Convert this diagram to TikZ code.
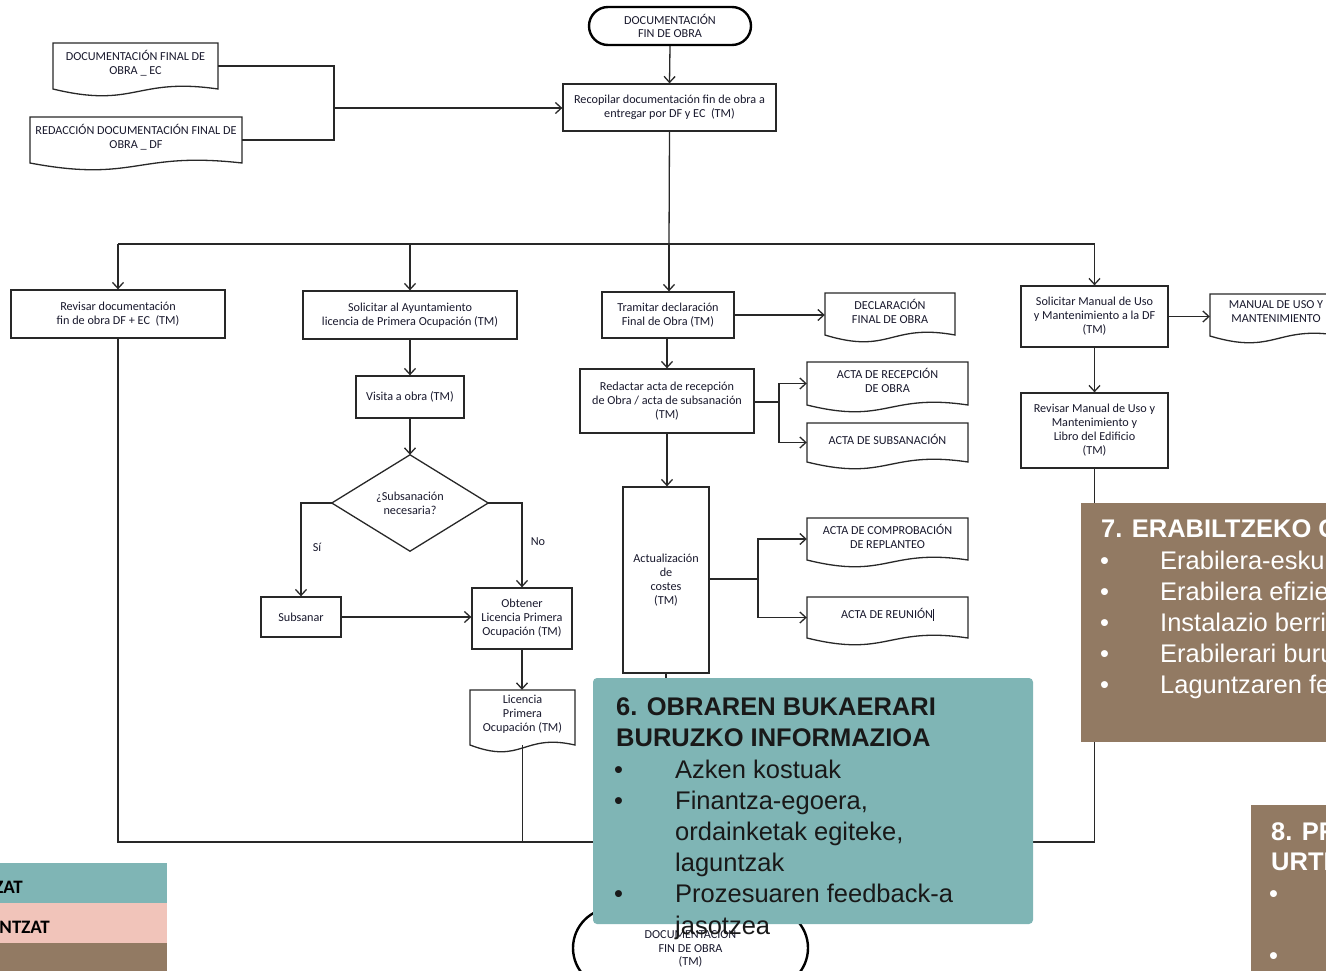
\documentclass[tikz,border=0pt]{standalone}
\usepackage{fontspec}
\setmainfont{Liberation Sans}
\newfontfamily\flowfont{Carlito}
\usetikzlibrary{arrows.meta,calc}
\definecolor{teal6}{RGB}{127,181,181}
\definecolor{brown7}{RGB}{146,122,99}
\definecolor{pink9}{RGB}{241,196,186}
\definecolor{lncol}{RGB}{40,40,40}
\definecolor{txtcol}{RGB}{25,25,45}
\tikzset{
  ln/.style={draw=lncol, line width=1.3pt},
  arr/.style={ln, -{Straight Barb[length=6pt,width=11pt,line width=1.3pt]}},
  ftxt/.style={inner sep=0, align=center, text=txtcol, font={\flowfont\fontsize{12.2pt}{14pt}\selectfont}},
  proc/.style={ln, fill=white, inner sep=0, align=center, text=txtcol, font={\flowfont\fontsize{12.2pt}{14pt}\selectfont}},
  term/.style={draw=black, line width=2.4pt, fill=white, inner sep=0, align=center, text=txtcol, font={\flowfont\fontsize{12.2pt}{13.5pt}\selectfont}},
  bigtxt/.style={anchor=base west, inner sep=0, font={\fontsize{25.5pt}{31pt}\selectfont}},
  bigbold/.style={bigtxt, font={\bfseries\fontsize{25.5pt}{31pt}\selectfont}},
  legtxt/.style={anchor=base east, inner sep=0, text=black, font={\flowfont\bfseries\fontsize{19pt}{22pt}\selectfont}}
}
\newcommand\docnode[6]{%
  \draw[ln, fill=white] (#2,#3) -- (#4,#3) -- (#4,#5) .. controls ({((#2)+(#4))/2},{(#5)-12}) and ({((#2)+(#4))/2},{(#5)+20}) .. (#2,#5) -- cycle;
  \node[inner sep=0, minimum width={(#4)-(#2)}, minimum height={(#5)-(#3)}] (#1) at ({((#2)+(#4))/2},{((#3)+(#5))/2}) {};
  \node[ftxt, yshift=3pt] at (#1.center) {#6};
}
\newcommand\procnode[6]{%
  \node[proc, minimum width={(#4)-(#2)}, minimum height={(#5)-(#3)}] (#1) at ({((#2)+(#4))/2},{((#3)+(#5))/2}) {#6};
}
\begin{document}
\begin{tikzpicture}[x=1pt,y=-1pt]
\useasboundingbox (0,0) rectangle (1326,970);
\begin{scope}
\clip (0,0) rectangle (1326,970);
% ---------- flowchart ----------
\node[term, minimum width=162, minimum height=38, rounded corners=19pt] (t1) at (670,26) {DOCUMENTACIÓN\\FIN DE OBRA};
\docnode{ec}{53}{43}{218}{89}{DOCUMENTACIÓN FINAL DE\\OBRA \_ EC}
\docnode{df}{30}{117}{242}{163}{REDACCIÓN DOCUMENTACIÓN FINAL DE\\OBRA \_ DF}
\procnode{rec}{563}{84}{776}{131}{Recopilar documentación fin de obra a\\entregar por DF y EC~~(TM)}
\procnode{rev1}{11}{290}{225}{338}{Revisar documentación\\fin de obra DF + EC~~(TM)}
\procnode{sol1}{303}{291}{517}{339}{Solicitar al Ayuntamiento\\licencia de Primera Ocupación (TM)}
\procnode{tram}{602}{292}{734}{338}{Tramitar declaración\\Final de Obra (TM)}
\docnode{decl}{825}{293}{955}{335}{DECLARACIÓN\\FINAL DE OBRA}
\procnode{solman}{1021}{286}{1168}{347}{Solicitar Manual de Uso\\y Mantenimiento a la DF\\(TM)}
\docnode{manual}{1210}{294}{1342}{336}{MANUAL DE USO Y\\MANTENIMIENTO}
\procnode{vis}{356}{376}{464}{418}{Visita a obra (TM)}
\node[inner sep=0, minimum width=156, minimum height=96] (dia) at (410,503) {};
\draw[ln, fill=white] (dia.north) -- (dia.east) -- (dia.south) -- (dia.west) -- cycle;
\node[ftxt] at (dia.center) {¿Subsanación\\necesaria?};
\procnode{subs}{261}{597}{341}{637}{Subsanar}
\procnode{obt}{472}{588}{572}{649}{Obtener\\Licencia Primera\\Ocupación (TM)}
\docnode{lic}{470}{690}{575}{745}{Licencia\\Primera\\Ocupación (TM)}
\procnode{red}{580}{369}{754}{433}{Redactar acta de recepción\\de Obra / acta de subsanación\\(TM)}
\docnode{recep}{807}{362}{968}{405}{ACTA DE RECEPCIÓN\\DE OBRA}
\docnode{subsd}{807}{423}{968}{462}{ACTA DE SUBSANACIÓN}
\procnode{act}{623}{487}{709}{673}{Actualización\\de\\costes\\(TM)}
\docnode{comp}{807}{518}{968}{560}{ACTA DE COMPROBACIÓN\\DE REPLANTEO}
\docnode{reun}{807}{597}{968}{638}{ACTA DE REUNIÓN\rule[-2pt]{0.8pt}{12pt}}
\procnode{revman}{1021}{393}{1168}{468}{Revisar Manual de Uso y\\Mantenimiento y\\Libro del Edificio\\(TM)}
\node[term, minimum width=235, minimum height=80, rounded corners=40pt] (t2) at (690.5,948) {DOCUMENTACIÓN\\FIN DE OBRA\\(TM)};
% ---------- connectors ----------
\coordinate (j1) at (334,108);
\coordinate (bus) at (669,244);
\coordinate (bot) at (690,842);
\coordinate (s1) at (779,402);
\coordinate (s2) at (758,579);
\draw[arr] (t1.south) -- (rec.north);
\draw[ln] (ec.east) -| (j1);
\draw[ln] (df.east) -| (j1);
\draw[arr] (j1) -- (j1 -| rec.west);
\draw[ln] (rec.south) -- (bus);
\draw[ln] (rev1.north |- bus) -- (solman.north |- bus);
\draw[arr] (rev1.north |- bus) -- (rev1.north);
\draw[arr] (sol1.north |- bus) -- (sol1.north);
\draw[arr] (bus) -- (bus |- tram.north);
\draw[arr] (solman.north |- bus) -- (solman.north);
\draw[arr] (tram.east) -- (tram.east -| decl.west);
\draw[arr] (solman.east) -- (solman.east -| manual.west);
\draw[arr] (solman.south) -- (revman.north);
\draw[arr] (sol1.south) -- (vis.north);
\draw[arr] (vis.south) -- (dia.north);
\draw[arr] (dia.west) -| (subs.north);
\draw[arr] (dia.east) -| (obt.north);
\node[ftxt] at (317,547) {Sí};
\node[ftxt] at (538,542) {No};
\draw[arr] (subs.east) -- (subs.east -| obt.west);
\draw[arr] (obt.south) -- (obt.south |- lic.north);
\draw[ln] (lic.south) -- (lic.south |- bot);
\draw[arr] (tram.south -| red.north) -- (red.north);
\draw[ln] (red.east |- s1) -- (s1);
\draw[arr] (s1) |- (recep.west);
\draw[arr] (s1) |- (subsd.west);
\draw[arr] (red.south) -- (red.south |- act.north);
\draw[ln] (act.east |- s2) -- (s2);
\draw[arr] (s2) |- (comp.west);
\draw[arr] (s2) |- (reun.west);
\draw[ln] (act.south) -- (act.south |- bot);
\draw[ln] (rev1.south) -- (rev1.south |- bot) -- (revman.south |- bot) -- (revman.south);
\draw[arr] (bot) -- (t2.north);
% ---------- overlays ----------
\fill[teal6, rounded corners=4pt] (593,678) rectangle (1033,924);
\node[bigbold, text=black!90] at (616,715) {6. OBRAREN BUKAERARI};
\node[bigbold, text=black!90] at (616,746) {BURUZKO INFORMAZIOA};
\foreach \yy in {778,809,902} \node[bigtxt, text=black!90] at (614,\yy) {•};
\node[bigtxt, text=black!90] at (675,778) {Azken kostuak};
\node[bigtxt, text=black!90] at (675,809) {Finantza-egoera,};
\node[bigtxt, text=black!90] at (675,840) {ordainketak egiteke,};
\node[bigtxt, text=black!90] at (675,871) {laguntzak};
\node[bigtxt, text=black!90] at (675,902) {Prozesuaren feedback-a};
\node[bigtxt, text=black!90] at (675,934) {jasotzea};
\fill[brown7] (1081,503) rectangle (1360,742);
\node[bigbold, text=white] at (1101,537) {7. ERABILTZEKO GIDA};
\foreach \yy in {569,600,631,662,693} \node[bigtxt, text=white] at (1100,\yy) {•};
\node[bigtxt, text=white] at (1160,569) {Erabilera-eskuliburua};
\node[bigtxt, text=white] at (1160,600) {Erabilera efizientea};
\node[bigtxt, text=white] at (1160,631) {Instalazio berriak};
\node[bigtxt, text=white] at (1160,662) {Erabilerari buruzko};
\node[bigtxt, text=white] at (1160,693) {Laguntzaren feedback-a};
\fill[brown7] (1251,805) rectangle (1360,990);
\node[bigbold, text=white] at (1271,840) {8. PRO};
\node[bigbold, text=white] at (1271,870) {URTE};
\foreach \yy in {902,964} \node[bigtxt, text=white] at (1269,\yy) {•};
\fill[teal6] (-10,863) rectangle (167,903);
\fill[pink9] (-10,903) rectangle (167,943);
\fill[brown7] (-10,943) rectangle (167,990);
\node[legtxt] at (23,893) {ZAT};
\node[legtxt] at (50,933) {NTZAT};
\end{scope}
\end{tikzpicture}
\end{document}
